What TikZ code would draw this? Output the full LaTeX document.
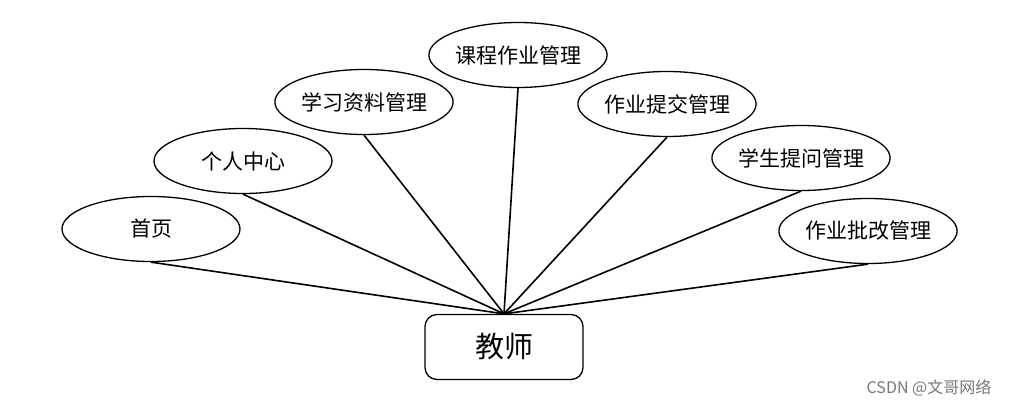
\documentclass[tikz,border=0pt]{standalone}
\usepackage{fontspec}
\usepackage{xcolor}
\usepackage{tikz}
\usetikzlibrary{shapes.geometric, positioning, calc}
\setmainfont{Noto Sans CJK SC}
\definecolor{marktext}{RGB}{120, 120, 120}
\tikzset{
    func/.style = {ellipse, draw=black, fill=white, line width=1.3pt, minimum width=178pt, minimum height=65pt, inner sep=0pt, font=\fontsize{21}{24}\selectfont},
    role/.style = {rectangle, draw=black, fill=white, line width=1.3pt, rounded corners=12pt, minimum width=158pt, minimum height=65pt, font=\fontsize{29}{32}\selectfont},
    link/.style = {line width=1.6pt, -}
}
\begin{document}
\begin{tikzpicture}[x=1pt, y=1pt]
\useasboundingbox (0,0) rectangle (1012,408);
\node (T) [role] at (504,61) {教师};
\node (A) [func] at (151,179) {首页};
\node (B) [func] at (243,247) {个人中心};
\node (C) [func] at (364,306) {学习资料管理};
\node (D) [func] at (518,353) {课程作业管理};
\node (E) [func] at (667,304) {作业提交管理};
\node (F) [func] at (801,250) {学生提问管理};
\node (G) [func] at (868,177) {作业批改管理};
\node (W) [text=marktext, font=\fontsize{16}{18}\selectfont] at (929,20) {CSDN @文哥网络};

\draw [link] (A.south) -- (T.north);
\draw [link] (B.south) -- (T.north);
\draw [link] (C.south) -- (T.north);
\draw [link] (D.south) -- (T.north);
\draw [link] (E.south) -- (T.north);
\draw [link] (F.south) -- (T.north);
\draw [link] (G.south) -- (T.north);
\end{tikzpicture}
\end{document}
